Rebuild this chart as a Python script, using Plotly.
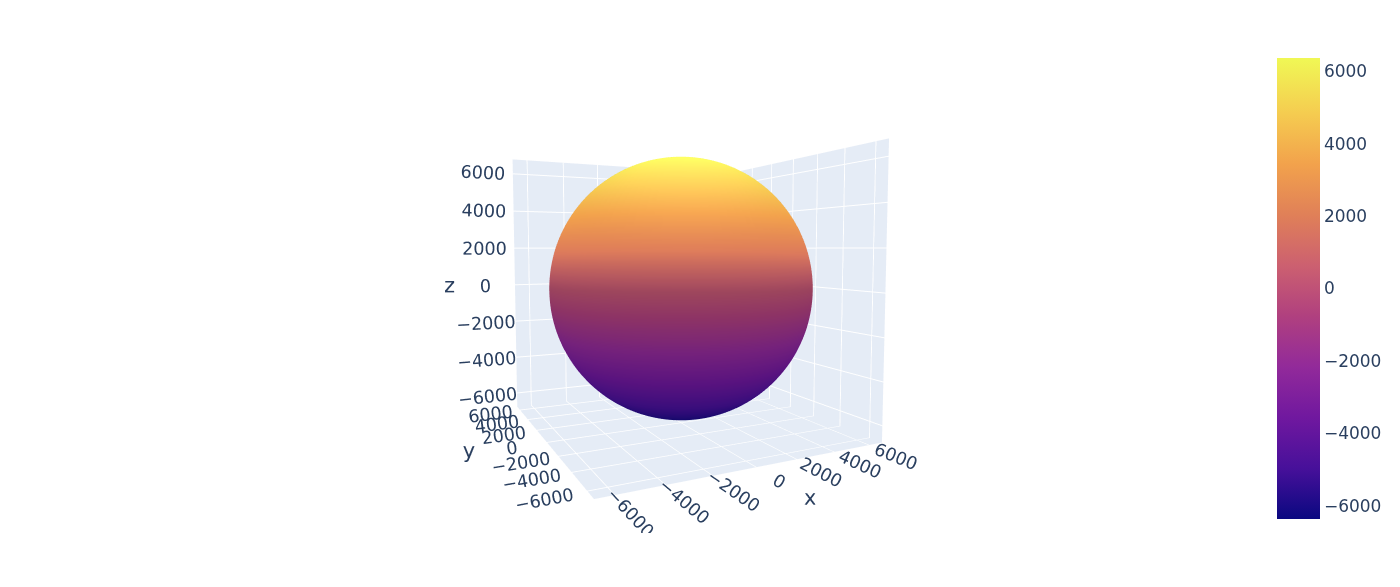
import numpy as np
import plotly.graph_objects as go

RADIUS = [6371]
LAT_DEG = list(range(-90, 91, 2))
LON_DEG = list(range(0, 361, 4))
TICKS = [-6000, -4000, -2000, 0, 2000, 4000, 6000]
COLOR_STOPS = [0, 0.11, 0.22, 0.33, 0.44, 0.55, 0.66, 0.77, 0.88, 1]
COLORS = ["#0a0880", "#47109a", "#70189f", "#922a9a", "#b0407f", "#cc6070",
          "#e08058", "#f2a24c", "#f5cc50", "#f0f855"]

lat = np.radians(LAT_DEG)
lon = np.radians(LON_DEG)
x = RADIUS[0] * np.outer(np.cos(lat), np.cos(lon))
y = RADIUS[0] * np.outer(np.cos(lat), np.sin(lon))
z = RADIUS[0] * np.outer(np.sin(lat), np.ones_like(lon))

FONT = "DejaVu Sans"
fig = go.Figure(go.Surface(
    x=x, y=y, z=z, colorscale=list(zip(COLOR_STOPS, COLORS)),
    colorbar=dict(tickvals=TICKS, thickness=43, len=1, ypad=14, xpad=0,
                  x=0.9169, xanchor="left", outlinewidth=0, ticklen=0,
                  tickfont=dict(size=17)),
))
AXIS = dict(tickvals=TICKS, tickfont=dict(size=14.5), title=dict(font=dict(size=21)),
            ticks="outside", ticklen=8, tickcolor="rgba(0,0,0,0)", gridwidth=2)
fig.update_layout(
    template="plotly",
    margin=dict(t=36, b=46, l=0, r=0),
    font=dict(size=17, family=FONT),
    scene=dict(
        domain=dict(x=[0.12, 0.853], y=[0, 1]),
        aspectmode="data",
        camera=dict(eye=dict(x=-0.961, y=-1.929, z=0.145)),
        xaxis=AXIS, yaxis=AXIS, zaxis=AXIS,
    ),
)
fig.write_html("out.html")
